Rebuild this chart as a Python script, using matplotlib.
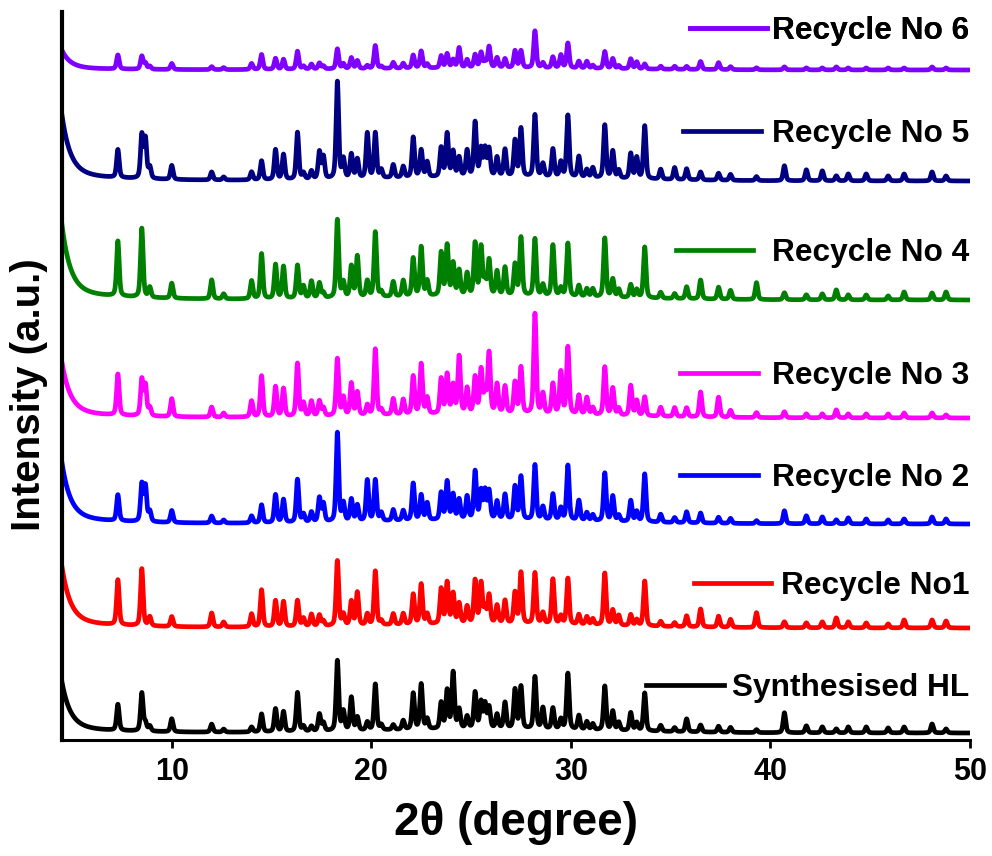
import numpy as np
import matplotlib
matplotlib.use("Agg")
import matplotlib.pyplot as plt
from matplotlib.lines import Line2D

plt.rcParams['font.family'] = ['Liberation Sans', 'DejaVu Sans']
plt.rcParams['font.weight'] = 'bold'

# Reflection positions (2-theta, degrees) shared by all patterns
peak_pos = [7.3, 8.5, 8.68, 8.9, 10.0, 12.0, 12.6, 14.0, 14.5, 15.2,
            15.6, 16.3, 16.6, 17.0, 17.4, 17.6, 18.3, 18.6, 19.0, 19.3,
            19.8, 20.2, 20.5, 21.1, 21.6, 22.1, 22.5, 22.8, 23.5, 23.8,
            24.1, 24.4, 24.8, 25.2, 25.5, 25.7, 25.9, 26.3, 26.7, 27.2,
            27.5, 28.2, 28.6, 29.1, 29.5, 29.85, 30.4, 30.8, 31.1, 31.7,
            32.1, 32.4, 33.0, 33.3, 33.7, 34.5, 35.2, 35.8, 36.5, 37.4,
            38.0, 39.3, 40.7, 41.8, 42.6, 43.3, 43.9, 44.8, 45.9, 46.7,
            48.1, 48.8]

# Peak intensities (a.u.) for each sample
synth_hl = [26, 38, 8, 5, 13, 8, 3, 5, 18, 23,
            20, 39, 5, 5, 17, 8, 70, 19, 33, 13,
            8, 46, 5, 5, 9, 36, 45, 10, 26, 38,
            56, 19, 12, 36, 26, 24, 21, 14, 26, 39,
            42, 52, 21, 21, 10, 56, 14, 8, 6, 44,
            19, 8, 18, 8, 38, 6, 4, 13, 7, 6,
            5, 3, 20, 7, 6, 4, 6, 6, 5, 6,
            9, 4]
recycle_1 = [45, 57, 0, 9, 10, 14, 5, 13, 37, 26,
             25, 26, 8, 12, 11, 5, 65, 11, 24, 33,
             11, 54, 4, 11, 11, 30, 40, 10, 35, 41,
             30, 20, 17, 43, 40, 15, 28, 18, 23, 31,
             51, 51, 11, 45, 8, 46, 10, 8, 6, 52,
             15, 10, 11, 6, 45, 5, 4, 11, 18, 11,
             8, 15, 6, 5, 6, 10, 6, 5, 4, 8,
             8, 7]
recycle_2 = [26, 37, 35, 10, 12, 7, 3, 7, 18, 28,
             23, 43, 8, 10, 24, 18, 89, 18, 22, 16,
             41, 41, 8, 11, 10, 37, 25, 17, 27, 38,
             25, 20, 23, 48, 28, 28, 28, 18, 25, 33,
             43, 55, 13, 26, 12, 55, 20, 8, 6, 48,
             25, 6, 21, 10, 48, 8, 5, 11, 10, 6,
             5, 3, 13, 8, 7, 4, 6, 5, 4, 5,
             7, 5]
recycle_3 = [41, 36, 30, 8, 18, 10, 4, 16, 41, 30,
             28, 53, 13, 15, 15, 8, 57, 18, 32, 23,
             10, 66, 5, 16, 15, 38, 50, 16, 35, 39,
             28, 57, 25, 36, 43, 20, 60, 29, 27, 31,
             46, 100, 20, 30, 42, 67, 19, 17, 7, 48,
             27, 7, 30, 15, 19, 9, 9, 9, 25, 20,
             7, 5, 6, 4, 4, 8, 4, 4, 4, 5,
             5, 3]
recycle_4 = [55, 69, 0, 10, 15, 19, 5, 18, 45, 34,
             32, 33, 12, 17, 15, 5, 78, 15, 31, 41,
             16, 65, 5, 15, 16, 38, 49, 15, 43, 50,
             32, 25, 22, 52, 48, 15, 35, 24, 28, 31,
             58, 57, 11, 51, 8, 53, 11, 8, 8, 59,
             18, 8, 13, 8, 51, 6, 5, 12, 19, 12,
             9, 17, 7, 5, 6, 10, 5, 5, 4, 8,
             7, 8]
recycle_5 = [28, 43, 39, 11, 14, 8, 3, 8, 19, 30,
             25, 47, 6, 8, 27, 22, 97, 19, 24, 19,
             45, 45, 8, 13, 11, 40, 27, 15, 29, 43,
             25, 19, 26, 54, 27, 27, 27, 19, 27, 36,
             48, 62, 13, 28, 15, 62, 21, 8, 10, 53,
             27, 8, 25, 21, 53, 10, 12, 11, 8, 7,
             6, 4, 15, 11, 10, 5, 7, 7, 5, 7,
             9, 5]
recycle_6 = [14, 13, 6, 3, 6, 3, 2, 6, 15, 11,
             10, 18, 3, 5, 6, 3, 20, 5, 11, 8,
             3, 23, 2, 6, 5, 13, 17, 4, 12, 14,
             8, 20, 8, 13, 15, 6, 21, 10, 9, 17,
             17, 37, 5, 11, 13, 25, 7, 7, 3, 17,
             10, 3, 10, 7, 5, 3, 3, 3, 8, 7,
             3, 2, 3, 2, 2, 3, 2, 2, 2, 2,
             3, 2]

labels = ["Synthesised HL", "Recycle No1", "Recycle No 2", "Recycle No 3",
          "Recycle No 4", "Recycle No 5", "Recycle No 6"]
intensities = [synth_hl, recycle_1, recycle_2, recycle_3,
               recycle_4, recycle_5, recycle_6]
# Vertical stacking offset, low-angle scatter rise and amorphous hump
offsets = [7, 112, 216, 322, 440, 559, 670]
low_angle = [44, 53, 53, 48, 65, 57, 17]
hump = [4, 4, 4, 4, 4, 4, 2]

colors = ["#000000", "#FF0000", "#0000FF", "#FF00FF",
          "#008000", "#000080", "#8000FF"]
legend_y = [0.071, 0.212, 0.36, 0.50, 0.669, 0.832, 0.974]
text_pad = [0.26, 0.3, 0.45, 0.45, 0.58, 0.35, 0.15]

x = np.arange(4.5, 50.0, 0.01)
fwhm = 0.15


def pattern(heights, rise, amorph):
    y = np.zeros_like(x)
    hw = fwhm / 2.0
    for p, h in zip(peak_pos, heights):
        d = x - p
        lor = hw ** 2 / (d ** 2 + hw ** 2)
        gau = np.exp(-np.log(2) * (d / hw) ** 2)
        y += h * (0.45 * lor + 0.55 * gau)
    y += rise * np.exp(-(x - 4.5) / 0.42)
    y += 0.15 * rise * np.exp(-(x - 4.5) / 3.0)
    y += amorph * np.exp(-((x - 26.0) ** 2) / (2 * 6.0 ** 2))
    return y


fig = plt.figure(figsize=(9.92, 8.56), dpi=100)
ax = fig.add_axes([62 / 992, 1 - 740 / 856, 908 / 992, 728 / 856])

for lab, ints, off, rise, am, col, ly, tp in zip(
        labels, intensities, offsets, low_angle, hump, colors, legend_y, text_pad):
    ax.plot(x, off + pattern(ints, rise, am), color=col, lw=3.4,
            solid_joinstyle='round')
    leg = ax.legend(handles=[Line2D([], [], color=col, lw=3.4)], labels=[lab],
                    loc='center right', bbox_to_anchor=(0.999, ly),
                    frameon=False, borderpad=0, borderaxespad=0,
                    handlelength=2.45, handletextpad=tp,
                    prop={'family': 'Liberation Sans', 'weight': 'bold', 'size': 22.8})
    ax.add_artist(leg)

ax.set_xlim(4.5, 50)
ax.set_ylim(0, 728)
ax.set_yticks([])
ax.set_xticks([10, 20, 30, 40, 50])
ax.tick_params(axis='x', direction='out', length=6, width=2,
               labelsize=22, pad=6)
for t in ax.get_xticklabels():
    t.set_fontweight('bold')
ax.spines['top'].set_visible(False)
ax.spines['right'].set_visible(False)
ax.spines['left'].set_linewidth(3)
ax.spines['bottom'].set_linewidth(2.2)

ax.set_xlabel("2θ (degree)", fontsize=33, fontweight='bold', labelpad=10)
ax.set_ylabel("Intensity (a.u.)", fontsize=29, fontweight='bold')
ax.yaxis.set_label_coords(-0.0154, 0.475)

fig.savefig("out.png", dpi=100)
